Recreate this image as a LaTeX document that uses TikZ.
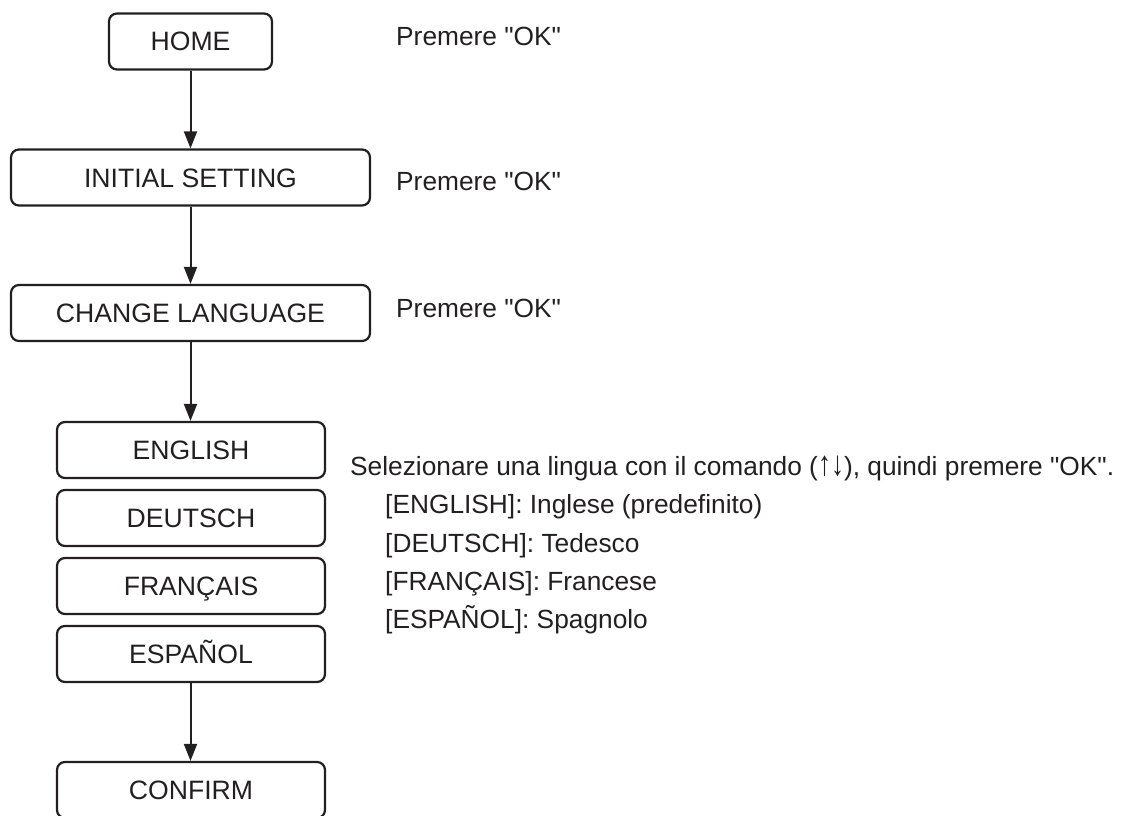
\documentclass[tikz,border=0pt]{standalone}
\usepackage{fontspec}
\usepackage{graphicx}
\defaultfontfeatures{}
\setmainfont{Liberation Sans}[Ligatures=TeXOff]
\usetikzlibrary{arrows.meta}
\definecolor{ink}{HTML}{231F20}
\newcommand{\uparr}{\raisebox{-0.5pt}{\resizebox{13pt}{19.5pt}{↑}}}
\newcommand{\dnarr}{\raisebox{-0.5pt}{\resizebox{13pt}{19.5pt}{↓}}}
\begin{document}
\begin{tikzpicture}[x=1pt,y=-1pt,
  box/.style={draw=ink,line width=2.2pt,rounded corners=8pt,inner sep=0pt,
    minimum height=56pt,text=ink,font=\fontsize{26.6}{30}\selectfont,
    text height=19pt,text depth=0pt},
  side/.style={anchor=base west,inner sep=0pt,text=ink,font=\fontsize{26.3}{30}\selectfont},
  flow/.style={draw=ink,line width=2pt,-{Triangle[length=17pt,width=13pt]}}]
\useasboundingbox (0,0) rectangle (1125,816);
\clip (0,0) rectangle (1125,816);
\node[box,minimum width=163pt] (home) at (190.5,41.5) {HOME};
\node[box,minimum width=359pt] (init) at (190.5,177.5) {INITIAL SETTING};
\node[box,minimum width=359pt] (lang) at (190.5,313) {CHANGE LANGUAGE};
\node[box,minimum width=268pt] (en) at (191,450) {ENGLISH};
\node[box,minimum width=268pt] (de) at (191,518) {DEUTSCH};
\node[box,minimum width=268pt] (fr) at (191,586) {FRANÇAIS};
\node[box,minimum width=268pt] (es) at (191,654) {ESPAÑOL};
\node[box,minimum width=268pt] (conf) at (191,790) {CONFIRM};
\draw[flow] (home.south) -- (home.south |- init.north);
\draw[flow] (init.south) -- (init.south |- lang.north);
\draw[flow] (lang.south) -- (lang.south |- en.north);
\draw[flow] (es.south -| lang.south) -- (lang.south |- conf.north);
\node[side] (ok1) at (396,46) {Premere "OK"};
\node[side] (ok2) at (396,190) {Premere "OK"};
\node[side] (ok3) at (396,317) {Premere "OK"};
\node[side] (sel) at (350,475) {Selezionare una lingua con il comando (\uparr\dnarr), quindi premere "OK".};
\node[side] (l1) at (385,513) {[ENGLISH]: Inglese (predefinito)};
\node[side] (l2) at (385,552) {[DEUTSCH]: Tedesco};
\node[side] (l3) at (385,590) {[FRANÇAIS]: Francese};
\node[side] (l4) at (385,628) {[ESPAÑOL]: Spagnolo};
\end{tikzpicture}
\end{document}
